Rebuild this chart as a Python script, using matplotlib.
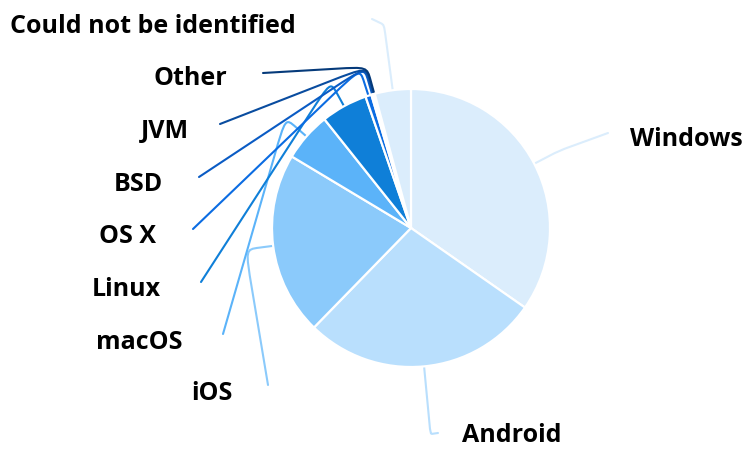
import numpy as np
import matplotlib
matplotlib.use("Agg")
import matplotlib.pyplot as plt
from matplotlib.path import Path
from matplotlib.patches import PathPatch

# ---- data ----
categories = ["Windows", "Android", "iOS", "macOS", "Linux", "OS X", "BSD",
              "JVM", "Other", "Could not be identified"]
shares = [34.7, 27.6, 21.3, 5.7, 5.4, 0.7, 0.2, 0.1, 0.1, 4.2]
colors = ["#dbedfc", "#b9dffd", "#8bcafb", "#5bb3f9", "#0f7fd8", "#0b6ce2",
          "#0a5bc4", "#094c9f", "#053a7a", "#dbedfc"]

# ---- layout (pixel units, y measured from top) ----
W, H = 746, 450
CX, CY, R = 411, 228, 139
# label text anchor (x, baseline y, ha) and connector end point, break radius
label_pos = {
    "Windows": (630, 146, "left", (608, 133), 167),
    "Android": (462, 442, "left", (438, 433), 207),
    "iOS": (233, 400, "right", (268, 385), 167),
    "macOS": (183, 349, "right", (223, 334), 167),
    "Linux": (161, 296, "right", (201, 282), 167),
    "OS X": (156, 243, "right", (193, 229), 167),
    "BSD": (163, 191, "right", (199, 177), 167),
    "JVM": (189, 138, "right", (220, 124), 167),
    "Other": (227, 85, "right", (263, 73), 167),
    "Could not be identified": (296, 33, "right", (372, 19), 205),
}

fig = plt.figure(figsize=(W / 100, H / 100), dpi=100)
ax = fig.add_axes([0, 0, 1, 1])
ax.set_xlim(0, W)
ax.set_ylim(0, H)
ax.set_aspect("equal")
ax.axis("off")

wedges, _ = ax.pie(shares, colors=colors, center=(CX, H - CY), radius=R,
                   startangle=90, counterclock=False,
                   wedgeprops=dict(edgecolor="white", linewidth=1.6))
ax.set_xlim(0, W)
ax.set_ylim(0, H)


def rounded_path(pts):
    A, B, C = [np.array(p, float) for p in pts]
    ab = A - B
    cb = C - B
    la, lc = np.linalg.norm(ab), np.linalg.norm(cb)
    r1 = min(14, la * 0.6)
    r2 = min(40, lc * 0.3)
    P1 = B + ab / la * r1
    P2 = B + cb / lc * r2
    verts = [A, P1, B, B, P2, C]
    codes = [Path.MOVETO, Path.LINETO, Path.CURVE4, Path.CURVE4, Path.CURVE4,
             Path.LINETO]
    return Path(verts, codes)


for w, name, col in zip(wedges, categories, colors):
    mid = np.deg2rad((w.theta1 + w.theta2) / 2)
    tx, ty, ha, end, rb = label_pos[name]
    cx, cy = w.center
    A = (cx + w.r * np.cos(mid), cy + w.r * np.sin(mid))
    B = (cx + rb * np.cos(mid), cy + rb * np.sin(mid))
    C = (end[0], H - end[1])
    p = rounded_path([A, B, C])
    ax.add_patch(PathPatch(p, facecolor="none", edgecolor=col, lw=1.5,
                           capstyle="round", zorder=0))
    ax.text(tx, H - ty, name, ha=ha, va="baseline", fontsize=18,
            fontweight="bold", family="Open Sans", color="#000000")

fig.savefig("out.png", dpi=100)
